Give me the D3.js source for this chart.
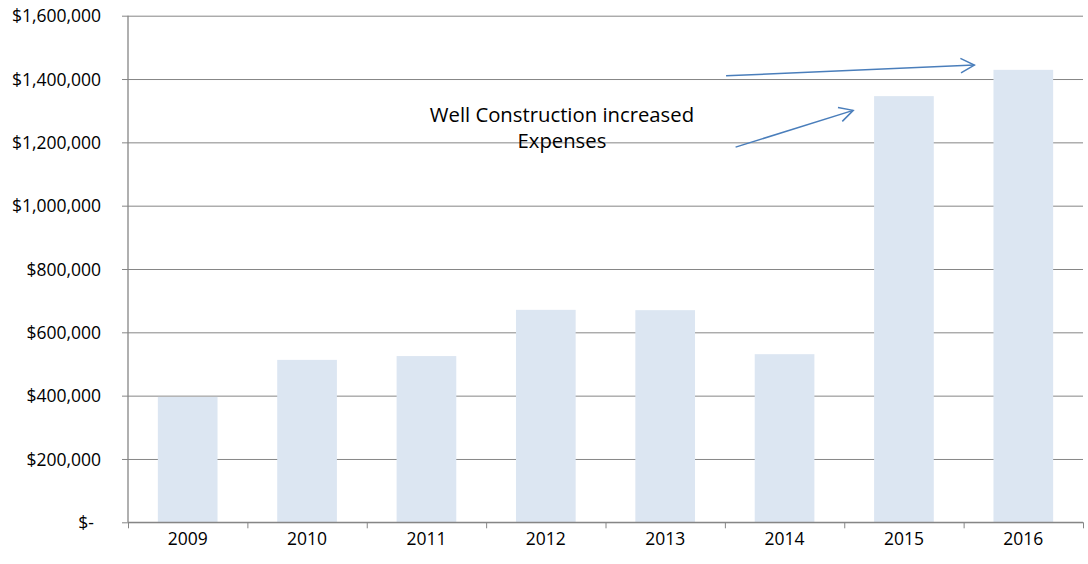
<!DOCTYPE html>
<html>
<head>
<title>Well Construction Expenses</title>
<style>
body { margin: 0; background: #fff; }
text { font-family: "Open Sans", "Liberation Sans", sans-serif; fill: #000; }
</style>
<script type="text/javascript" src="https://d3js.org/d3.v7.min.js"></script>
</head>
<body>
<svg id="chart" width="1088" height="564"></svg>
<script type="text/javascript">
const years = ["2009", "2010", "2011", "2012", "2013", "2014", "2015", "2016"];
const expenses = [396000, 513000, 525000, 671000, 670000, 531000, 1346000, 1429000];
const yTicks = [0, 200000, 400000, 600000, 800000, 1000000, 1200000, 1400000, 1600000];
const noteLines = ["Well Construction increased", "Expenses"];
// arrows in data space: [category position, value]
const arrows = [
    [[5.01, 1410000], [7.09, 1444000]],
    [[5.09, 1185000], [6.075, 1301000]]
];

const svg = d3.select("#chart");
const LEFT = 128, RIGHT = 1083, TOP = 15.7, BOTTOM = 522.3;
const GRID = "#868686";

const x = d3.scaleBand().domain(years).range([LEFT, RIGHT]).paddingInner(0.5).paddingOuter(0.25);
const xi = d3.scaleLinear().domain([0, years.length]).range([LEFT, RIGHT]);
const y = d3.scaleLinear().domain([0, 1600000]).range([BOTTOM, TOP]);

const fmt = d3.format(",");

// y axis with gridlines
const yAxis = svg.append("g")
    .attr("transform", `translate(${LEFT},0)`)
    .call(d3.axisLeft(y).tickValues(yTicks).tickSizeInner(-(RIGHT - LEFT)).tickSizeOuter(0)
        .tickFormat(d => d === 0 ? "$-" : "$" + fmt(d)));
yAxis.select(".domain").remove();
yAxis.selectAll(".tick line").attr("x1", -6).attr("stroke", GRID);
yAxis.selectAll(".tick text")
    .attr("x", -27)
    .attr("dy", "0.35em")
    .style("font-size", "17.5px")
    .style("font-family", "'Open Sans', sans-serif")
    .attr("fill", "#000")
    .filter(d => d === 0).attr("x", -34);

// bars
svg.append("g").selectAll("rect")
    .data(years)
    .enter()
    .append("rect")
    .attr("x", d => x(d))
    .attr("y", (d, i) => y(expenses[i]))
    .attr("width", x.bandwidth())
    .attr("height", (d, i) => y(0) - y(expenses[i]))
    .attr("fill", "#dce6f2");

// axis lines
svg.append("line").attr("x1", LEFT).attr("x2", LEFT).attr("y1", TOP).attr("y2", BOTTOM)
    .attr("stroke", GRID).attr("stroke-width", 1.3);

const xTicks = svg.append("g")
    .attr("transform", `translate(0,${BOTTOM})`)
    .call(d3.axisBottom(xi).tickValues(d3.range(0, years.length + 1)).tickSize(6).tickFormat(""));
xTicks.select(".domain").attr("stroke", GRID).attr("stroke-width", 1.3).attr("d", `M${LEFT},0H${RIGHT}`);
xTicks.selectAll(".tick line").attr("stroke", GRID);

const xAxis = svg.append("g")
    .attr("transform", `translate(0,${BOTTOM})`)
    .call(d3.axisBottom(x).tickSize(0).tickPadding(10));
xAxis.select(".domain").remove();
xAxis.selectAll(".tick text")
    .attr("dy", "0.71em")
    .style("font-size", "17.5px")
    .style("font-family", "'Open Sans', sans-serif")
    .attr("fill", "#000");

// annotation text
svg.append("text")
    .attr("text-anchor", "middle")
    .style("font-size", "20.3px")
    .selectAll("tspan")
    .data(noteLines)
    .enter()
    .append("tspan")
    .attr("x", xi(3.635))
    .attr("y", (d, i) => y(1265000) + i * 26.6)
    .text(d => d);

// arrows
const ARROW = "#4a7ebb";
arrows.forEach(a => {
    const x1 = xi(a[0][0]), y1 = y(a[0][1]), x2 = xi(a[1][0]), y2 = y(a[1][1]);
    const ang = Math.atan2(y2 - y1, x2 - x1);
    const L = 15.5, spread = 28 * Math.PI / 180;
    const g = svg.append("g").attr("stroke", ARROW).attr("stroke-width", 1.5).attr("fill", "none");
    g.append("line").attr("x1", x1).attr("y1", y1).attr("x2", x2).attr("y2", y2);
    g.append("path").attr("d",
        `M${x2 - L * Math.cos(ang - spread)},${y2 - L * Math.sin(ang - spread)}` +
        `L${x2},${y2}` +
        `L${x2 - L * Math.cos(ang + spread)},${y2 - L * Math.sin(ang + spread)}`);
});
</script>
</body>
</html>
